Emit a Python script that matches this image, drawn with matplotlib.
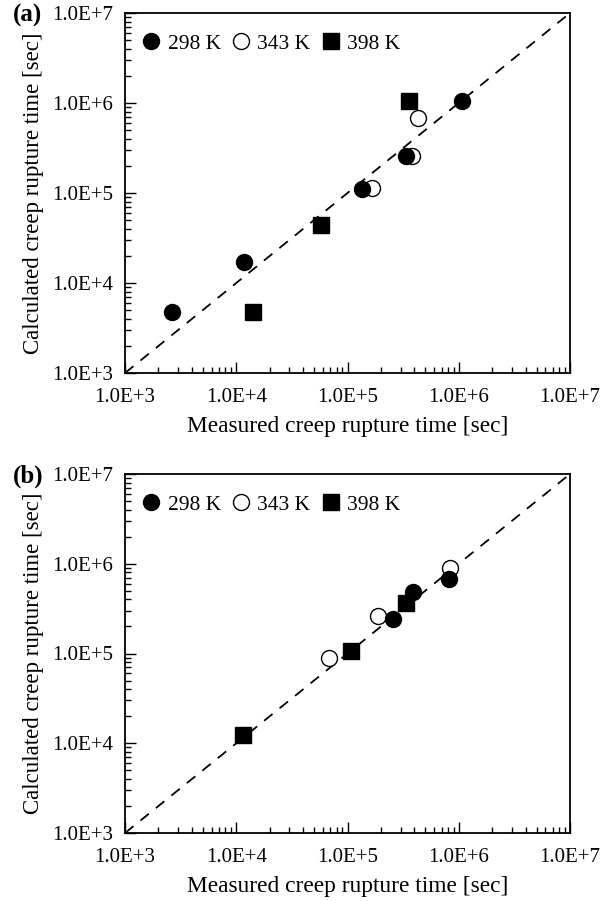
import numpy as np
import matplotlib.pyplot as plt
from matplotlib.ticker import LogLocator, FixedLocator, NullFormatter

plt.rcParams['font.family'] = ['Liberation Serif', 'DejaVu Serif']

# Panel (a) data: measured vs calculated creep rupture time [sec]
a_298_meas = [2.66e3, 1.17e4, 1.36e5, 3.36e5, 1.08e6]
a_298_calc = [4.76e3, 1.71e4, 1.12e5, 2.55e5, 1.04e6]
a_343_meas = [1.65e5, 3.78e5, 4.33e5]
a_343_calc = [1.15e5, 2.55e5, 6.80e5]
a_398_meas = [1.40e4, 5.74e4, 3.60e5]
a_398_calc = [4.76e3, 4.37e4, 1.04e6]

# Panel (b) data
b_298_meas = [2.58e5, 3.91e5, 8.17e5]
b_298_calc = [2.42e5, 4.79e5, 6.68e5]
b_343_meas = [6.87e4, 1.87e5, 8.34e5]
b_343_calc = [8.80e4, 2.61e5, 8.87e5]
b_398_meas = [1.14e4, 1.07e5, 3.36e5]
b_398_calc = [1.25e4, 1.06e5, 3.67e5]

tick_vals = [1e3, 1e4, 1e5, 1e6, 1e7]
tick_labels = ['1.0E+3', '1.0E+4', '1.0E+5', '1.0E+6', '1.0E+7']

fig = plt.figure(figsize=(6.12, 9.01), dpi=100)
W, H = 612, 901
boxes = [(125, 13, 570, 373), (125, 474, 570, 833)]
panels = [
    ('(a)', a_298_meas, a_298_calc, a_343_meas, a_343_calc, a_398_meas, a_398_calc),
    ('(b)', b_298_meas, b_298_calc, b_343_meas, b_343_calc, b_398_meas, b_398_calc),
]

for (x0, y0, x1, y1), (lab, m1, c1, m2, c2, m3, c3) in zip(boxes, panels):
    ax = fig.add_axes([x0 / W, 1 - y1 / H, (x1 - x0) / W, (y1 - y0) / H])
    ax.set_xscale('log')
    ax.set_yscale('log')
    ax.set_xlim(1e3, 1e7)
    ax.set_ylim(1e3, 1e7)
    ax.plot([1e3, 1e7], [1e3, 1e7], color='black', lw=1.3, ls=(0, (6, 5)), zorder=1)
    ax.plot(m1, c1, 'o', color='black', ms=11.5, label='298 K', zorder=3)
    ax.plot(m2, c2, 'o', mfc='white', mec='black', mew=1.0, ms=11.5, label='343 K', zorder=2)
    ax.plot(m3, c3, 's', color='black', ms=11.5, label='398 K', zorder=3)

    ax.xaxis.set_major_locator(FixedLocator(tick_vals))
    ax.yaxis.set_major_locator(FixedLocator(tick_vals))
    ax.set_xticklabels(tick_labels)
    ax.set_yticklabels(tick_labels)
    ax.xaxis.set_minor_locator(LogLocator(base=10, subs=np.arange(2, 10)))
    ax.yaxis.set_minor_locator(LogLocator(base=10, subs=np.arange(2, 10)))
    ax.xaxis.set_minor_formatter(NullFormatter())
    ax.yaxis.set_minor_formatter(NullFormatter())
    ax.tick_params(which='both', direction='in', top=False, right=False,
                   labelsize=15, width=1.0)
    ax.tick_params(which='major', length=8)
    ax.tick_params(which='minor', length=4)
    ax.tick_params(axis='x', which='both', pad=10.5)
    ax.tick_params(axis='y', which='both', pad=8.5)
    for s in ax.spines.values():
        s.set_linewidth(1.3)

    ax.set_xlabel('Measured creep rupture time [sec]', fontsize=16.8, labelpad=7)
    ax.set_ylabel('Calculated creep rupture time [sec]', fontsize=16.5, labelpad=6)
    ax.legend(loc='upper left', ncol=3, frameon=False, fontsize=15.5,
              handletextpad=0.25, columnspacing=0.45, handlelength=1.0,
              borderaxespad=0.0, bbox_to_anchor=(0.016, 0.967))
    fig.text(13 / W, 1 - (y0 + 2) / H, lab, fontsize=18, fontweight='bold',
             ha='left', va='center')

fig.savefig('out.png', dpi=100)
